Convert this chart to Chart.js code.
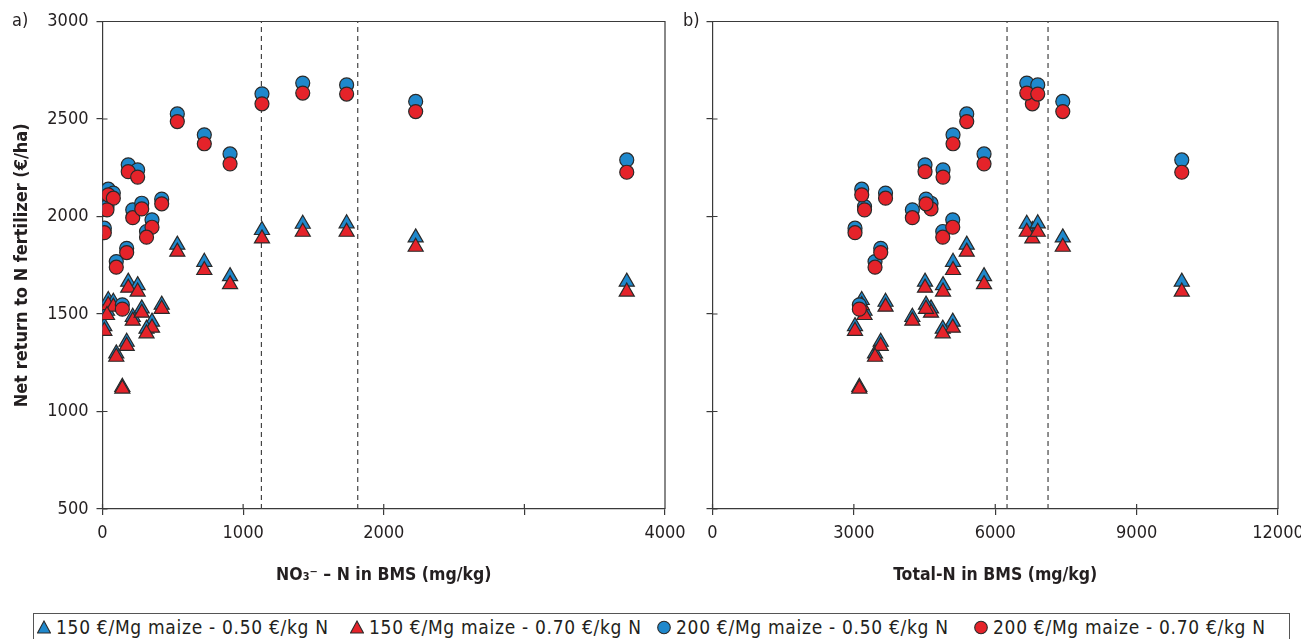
<!DOCTYPE html>
<html>
<head>
<meta charset="utf-8">
<script src="https://cdn.jsdelivr.net/npm/chart.js@4/dist/chart.umd.min.js"></script>
<style>
body { margin:0; background:#fff; width:1301px; height:639px; overflow:hidden; position:relative;
  font-family:'Liberation Sans Narrow','DejaVu Sans Condensed','Liberation Sans',sans-serif; color:#231f20; }
#left { position:absolute; left:0; top:0; }
#right { position:absolute; left:690px; top:0; }
.tag { position:absolute; font-size:18px; }
#legend { position:absolute; left:33px; top:613px; width:1257px; height:40px; border:1px solid #555; box-sizing:border-box; }
.item { position:absolute; top:1px; height:24px; font-size:19px; letter-spacing:0.7px; display:flex; align-items:center; white-space:nowrap; }
.item svg { margin-right:5px; }
</style>
</head>
<body>
<canvas id="left" width="690" height="600"></canvas>
<canvas id="right" width="611" height="600"></canvas>
<div class="tag" style="left:12px; top:9px;">a)</div>
<div class="tag" style="left:683px; top:9px;">b)</div>
<div id="legend"></div>
<script>
// one value per field, same order in every array
const no3N = [532, 724, 907, 1134, 1424, 1736, 2227, 3728, 183, 250, 41, 77, 32, 215, 279, 421, 352, 313, 13, 172, 98, 141];
const totalN = [5395, 5104, 5762, 6787, 6669, 6902, 7433, 9958, 4510, 4892, 3167, 3672, 3226, 4241, 4637, 4531, 5098, 4886, 3024, 3570, 3449, 3116];

// net return (€/ha) for the four price scenarios
const net150_050 = [1855, 1767, 1693, 1930, 1962, 1964, 1892, 1665, 1665, 1647, 1571, 1562, 1516, 1485, 1528, 1547, 1460, 1424, 1437, 1357, 1297, 1126];
const net150_070 = [1819, 1725, 1652, 1887, 1921, 1921, 1844, 1614, 1634, 1614, 1545, 1537, 1494, 1465, 1506, 1526, 1429, 1400, 1413, 1336, 1280, 1117];
const net200_050 = [2526, 2419, 2321, 2629, 2684, 2675, 2590, 2290, 2265, 2239, 2140, 2120, 2051, 2034, 2068, 2089, 1983, 1923, 1940, 1837, 1769, 1547];
const net200_070 = [2487, 2373, 2270, 2578, 2633, 2628, 2538, 2227, 2230, 2202, 2111, 2094, 2034, 1994, 2039, 2065, 1945, 1894, 1917, 1815, 1740, 1525];

const seriesNames = ["150 €/Mg maize - 0.50 €/kg N", "150 €/Mg maize - 0.70 €/kg N", "200 €/Mg maize - 0.50 €/kg N", "200 €/Mg maize - 0.70 €/kg N"];

// dashed reference lines
const no3Cuts = [1130, 1815];
const totalCuts = [6250, 7120];

const BLUE = "#1f88cc";
const RED = "#e5232a";
const EDGE = "#2a2a2a";
const INK = "#231f20";
const FONT = "'Liberation Sans Narrow','DejaVu Sans Condensed','Liberation Sans',sans-serif";

Chart.defaults.font.family = FONT;
Chart.defaults.color = INK;

function pts(xs, ys) {
    return xs.map((x, i) => ({x: x, y: ys[i]}));
}

function cutLine(v) {
    return {
        data: [{x: v, y: 500}, {x: v, y: 3000}],
        showLine: true,
        pointRadius: 0,
        borderColor: "#444",
        borderWidth: 1.2,
        borderDash: [5, 4],
        order: 9,
    };
}

function makeDatasets(xs, cuts) {
    return [
        {label: seriesNames[0], data: pts(xs, net150_050), pointStyle: "triangle", pointRadius: 8.7, backgroundColor: BLUE, borderColor: EDGE, borderWidth: 1.2, order: 4},
        {label: seriesNames[1], data: pts(xs, net150_070), pointStyle: "triangle", pointRadius: 8.7, backgroundColor: RED, borderColor: EDGE, borderWidth: 1.2, order: 3},
        {label: seriesNames[2], data: pts(xs, net200_050), pointStyle: "circle", pointRadius: 7, backgroundColor: BLUE, borderColor: EDGE, borderWidth: 1.2, order: 2},
        {label: seriesNames[3], data: pts(xs, net200_070), pointStyle: "circle", pointRadius: 7, backgroundColor: RED, borderColor: EDGE, borderWidth: 1.2, order: 1},
        cutLine(cuts[0]),
        cutLine(cuts[1]),
    ];
}

// top and right sides of the box, plus the inner half of each tick
const frame = {
    id: "frame",
    beforeDatasetsDraw(chart) {
        const {ctx, chartArea: a, scales} = chart;
        ctx.save();
        ctx.strokeStyle = "#3a3a3a";
        ctx.lineWidth = 1.2;
        ctx.beginPath();
        ctx.moveTo(a.left, a.top);
        ctx.lineTo(a.right, a.top);
        ctx.lineTo(a.right, a.bottom);
        scales.x.ticks.forEach(t => {
            const px = scales.x.getPixelForValue(t.value);
            ctx.moveTo(px, a.bottom);
            ctx.lineTo(px, a.bottom - 5);
        });
        scales.y.ticks.forEach(t => {
            const py = scales.y.getPixelForValue(t.value);
            ctx.moveTo(a.left, py);
            ctx.lineTo(a.left + 5, py);
        });
        ctx.stroke();
        ctx.restore();
    }
};

function makeChart(id, xs, cuts, xOpts, yWidth, showY, padRight) {
    return new Chart(document.getElementById(id).getContext("2d"), {
        type: "scatter",
        data: {datasets: makeDatasets(xs, cuts)},
        options: {
            responsive: false,
            animation: false,
            layout: {padding: {left: 0, top: 21.5, right: padRight, bottom: 11}},
            scales: {
                x: {
                    type: "linear",
                    min: xOpts.min,
                    max: xOpts.max,
                    ticks: {
                        stepSize: xOpts.step,
                        autoSkip: false,
                        maxRotation: 0,
                        padding: 8,
                        font: {size: 18},
                        color: INK,
                        callback: xOpts.label,
                    },
                    grid: {drawOnChartArea: false, tickLength: 6, color: "#3a3a3a", lineWidth: 1.2},
                    border: {color: "#3a3a3a", width: 1.2},
                    title: {
                        display: true,
                        text: xOpts.title,
                        font: {size: 17.5, weight: "bold"},
                        color: INK,
                        padding: {top: 0, bottom: 3},
                    },
                    afterFit: s => {
                        s.height = 80;
                        s.paddingLeft = 0;
                        s.paddingRight = 0;
                    },
                },
                y: {
                    type: "linear",
                    min: 500,
                    max: 3000,
                    ticks: {
                        stepSize: 500,
                        display: showY,
                        padding: 8,
                        font: {size: 18},
                        color: INK,
                        callback: v => String(v),
                    },
                    grid: {drawOnChartArea: false, tickLength: 6, color: "#3a3a3a", lineWidth: 1.2},
                    border: {color: "#3a3a3a", width: 1.2},
                    title: {
                        display: showY,
                        text: "Net return to N fertilizer (€/ha)",
                        font: {size: 18, weight: "bold"},
                        color: INK,
                        padding: {top: 12, bottom: 0},
                    },
                    afterFit: s => {
                        s.width = yWidth;
                    },
                },
            },
            plugins: {
                legend: {display: false},
                tooltip: {enabled: false},
            },
        },
        plugins: [frame],
    });
}

var leftChart = makeChart("left", no3N, no3Cuts, {
    min: 0, max: 4000, step: 1000,
    label: v => (v === 3000 ? "" : String(v)),
    title: "NO₃⁻ – N in BMS (mg/kg)",
}, 102.5, true, 25);

var rightChart = makeChart("right", totalN, totalCuts, {
    min: 0, max: 12000, step: 3000,
    label: v => String(v),
    title: "Total-N in BMS (mg/kg)",
}, 22.5, false, 23);

// legend under both panels
const legendItems = [
    {left: 3, shape: "triangle", color: BLUE},
    {left: 316, shape: "triangle", color: RED},
    {left: 623, shape: "circle", color: BLUE},
    {left: 940, shape: "circle", color: RED},
];
const legend = document.getElementById("legend");
legendItems.forEach((it, i) => {
    const div = document.createElement("div");
    div.className = "item";
    div.style.left = it.left + "px";
    const mark = it.shape === "triangle"
        ? '<polygon points="7,1 13.5,13 0.5,13" fill="' + it.color + '" stroke="' + EDGE + '" stroke-width="1.1"/>'
        : '<circle cx="7" cy="7.5" r="6.3" fill="' + it.color + '" stroke="' + EDGE + '" stroke-width="1.1"/>';
    div.innerHTML = '<svg width="14" height="15" viewBox="0 0 14 15">' + mark + "</svg><span>" + seriesNames[i] + "</span>";
    legend.appendChild(div);
});
</script>
</body>
</html>
